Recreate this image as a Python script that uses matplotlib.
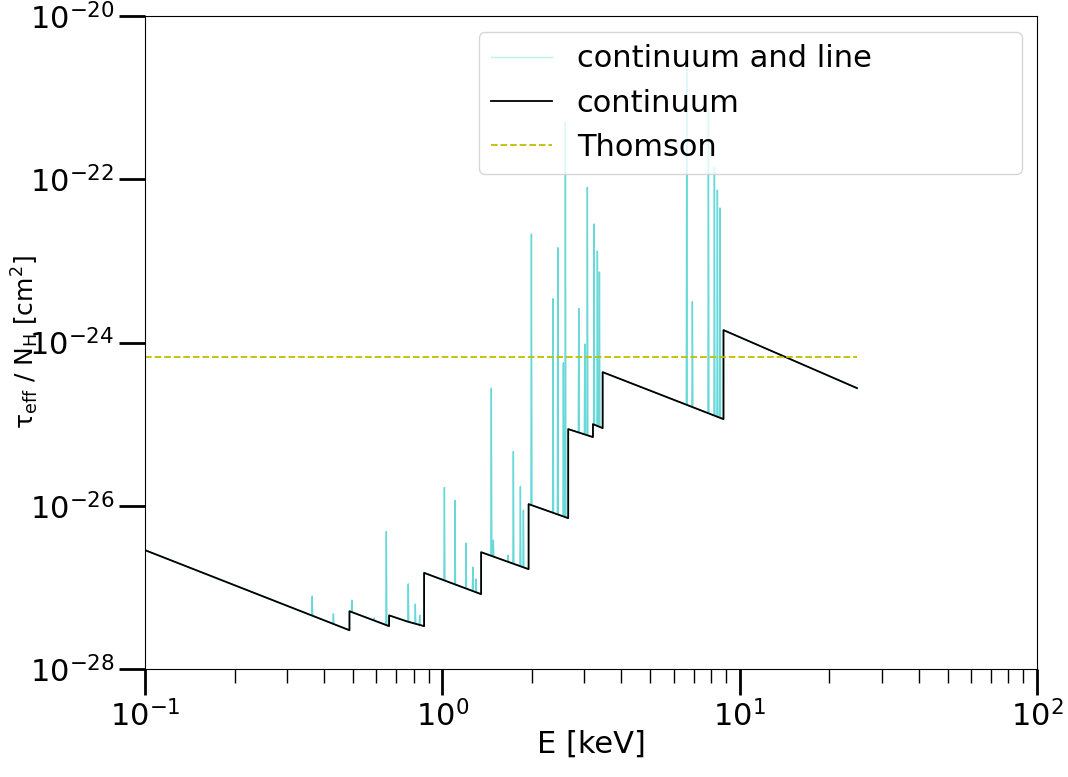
import numpy as np
import matplotlib.pyplot as plt

# continuum: energy nodes [keV] (edges appear twice) and tau_eff/N_H [cm^2]
cont_E = [0.1, 0.487, 0.487, 0.662, 0.662, 0.762, 0.868, 0.868, 1.35, 1.35,
          1.95, 1.95, 2.65, 2.65, 3.21, 3.21, 3.46, 3.46, 8.82, 8.82, 24.8]
cont_logtau = [-26.544, -27.525, -27.292, -27.475, -27.343, -27.418, -27.475,
               -26.822, -27.083, -26.569, -26.777, -25.980, -26.152, -25.061,
               -25.159, -25.000, -25.049, -24.363, -24.939, -23.848, -24.559]

# line peaks: energy [keV] and peak tau_eff/N_H
line_E = [0.365, 0.430, 0.496, 0.590, 0.648, 0.768, 0.811, 0.839, 1.016, 1.103,
          1.201, 1.266, 1.298, 1.461, 1.484, 1.663, 1.733, 1.830, 1.873, 1.993,
          2.357, 2.445, 2.553, 2.593, 2.876, 3.013, 3.074, 3.238, 3.322, 3.375,
          6.637, 6.932, 7.849, 8.222, 8.414, 8.590]
line_logtau = [-27.108, -27.325, -27.157, -27.374, -26.315, -26.957, -27.206,
               -27.341, -25.776, -25.935, -26.458, -26.752, -26.899, -24.559,
               -26.422, -26.605, -25.335, -25.763, -26.054, -22.672, -23.464,
               -22.839, -24.249, -21.299, -23.582, -24.020, -22.099, -22.549,
               -22.880, -23.137, -20.613, -23.500, -21.152, -21.850, -22.132,
               -22.353]

sigma_T = 6.65e-25

cont_E = np.array(cont_E)
cont_tau = 10**np.array(cont_logtau)

# build continuum + line curve: each line is a narrow spike on the continuum
half = 0.0015  # spike half width in dex
lE = np.log10(line_E)
spike_E = []
spike_tau = []
for e, p in zip(lE, line_logtau):
    base_lo = np.interp(e - half, np.log10(cont_E), np.array(cont_logtau))
    base_hi = np.interp(e + half, np.log10(cont_E), np.array(cont_logtau))
    spike_E += [e - half, e, e + half]
    spike_tau += [base_lo, p, base_hi]
all_E = np.concatenate([np.log10(cont_E), spike_E])
all_tau = np.concatenate([cont_logtau, spike_tau])
order = np.argsort(all_E, kind='stable')
tot_E = 10**all_E[order]
tot_tau = 10**all_tau[order]

fig = plt.figure(figsize=(10.68, 7.77), dpi=100)
ax = fig.add_axes([0.1358, 0.139, 0.8352, 0.8404])

ax.plot(tot_E, tot_tau, color='c', lw=1, alpha=0.25, label='continuum and line')
ax.plot(tot_E, tot_tau, color='c', lw=1, alpha=0.45)
ax.plot(cont_E, cont_tau, color='k', lw=1.3, label='continuum')
ax.plot([cont_E[0], cont_E[-1]], [sigma_T, sigma_T], color='y', ls='--', lw=1.3,
        label='Thomson')

ax.set_xscale('log')
ax.set_yscale('log')
ax.set_xlim(0.1, 100)
ax.set_ylim(1e-28, 1e-20)
ax.set_yticks([1e-28, 1e-26, 1e-24, 1e-22, 1e-20])
ax.yaxis.set_minor_locator(plt.NullLocator())

ax.tick_params(which='major', length=19, width=2, labelsize=22, pad=3)
ax.tick_params(which='minor', length=10, width=1)

ax.set_xlabel('E [keV]', fontsize=22, labelpad=-1.5)
ax.set_ylabel('τ$_{\\rm eff}$ / N$_{\\rm H}$ [cm$^2$]', fontsize=18)
ax.yaxis.set_label_coords(-0.117, 0.5)

ax.legend(loc='upper left', fontsize=22, mode='expand', borderaxespad=0,
          bbox_to_anchor=(0.3744, 0.5, 0.609, 0.4755))

plt.savefig('out.png')
